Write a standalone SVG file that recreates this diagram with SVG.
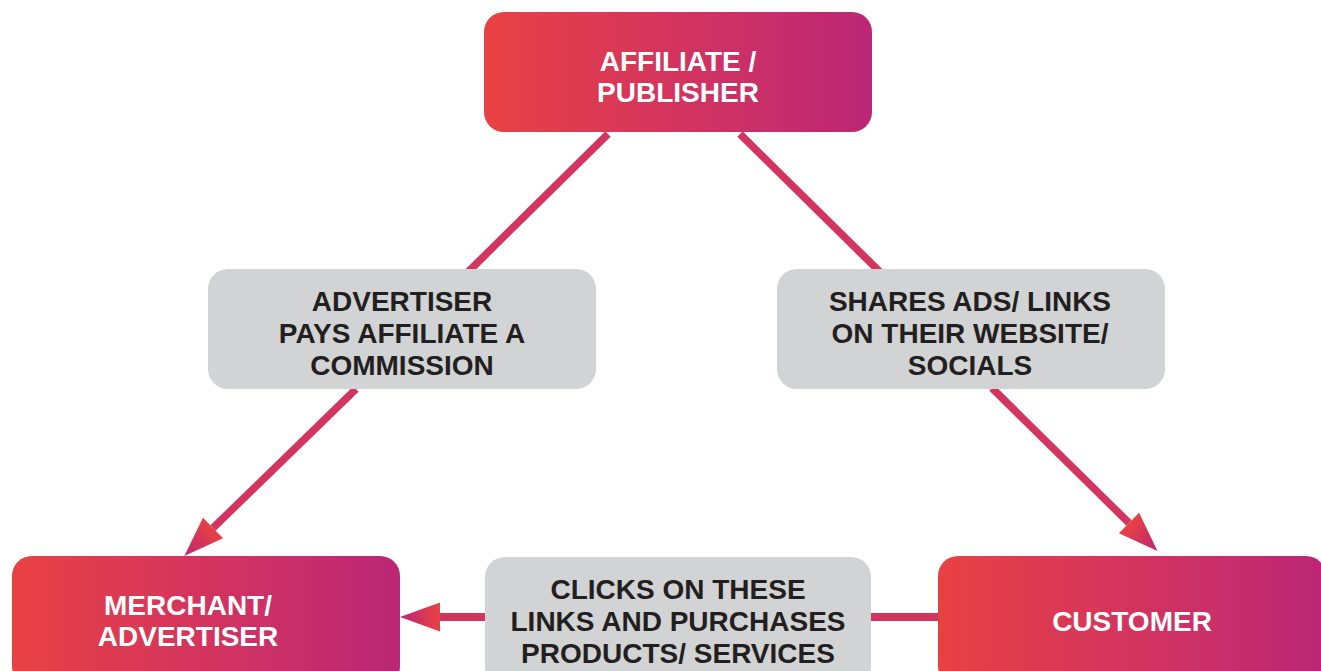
<svg xmlns="http://www.w3.org/2000/svg" width="1321" height="671" viewBox="0 0 1321 671">
<defs>
<linearGradient id="g" x1="0" y1="0" x2="1" y2="0">
<stop offset="0" stop-color="#e84143"/>
<stop offset="0.5" stop-color="#d3345f"/>
<stop offset="1" stop-color="#bb2776"/>
</linearGradient>
<linearGradient id="ga" x1="0" y1="0" x2="1" y2="0">
<stop offset="0" stop-color="#e84143"/>
<stop offset="1" stop-color="#bb2776"/>
</linearGradient>
<marker id="arr" markerUnits="userSpaceOnUse" markerWidth="40" markerHeight="30" viewBox="0 0 36 26" refX="0" refY="13" orient="auto" overflow="visible">
<path d="M0,0 L36,13 L0,26 z" fill="url(#ga)"/>
</marker>
<style>
.main{fill:url(#g)}
.grey{fill:#d1d3d4}
.wt{font-family:"Liberation Sans",Arial,sans-serif;font-weight:bold;font-size:28px;fill:#ffffff;text-anchor:middle}
.dt{font-family:"Liberation Sans",Arial,sans-serif;font-weight:bold;font-size:28px;fill:#231f20;text-anchor:middle}
.ln{stroke:#d33460;stroke-width:7.5;fill:none}
.lh{stroke:#d33460;stroke-width:8;fill:none}
</style>
</defs>
<g id="connectors">
<line class="ln" x1="608" y1="134" x2="468" y2="272"/>
<line class="ln" x1="356" y1="389" x2="213" y2="528" marker-end="url(#arr)"/>
<line class="ln" x1="740" y1="134" x2="880" y2="272"/>
<line class="ln" x1="992" y1="388" x2="1129" y2="523" marker-end="url(#arr)"/>
<line class="lh" x1="940" y1="617" x2="440" y2="617" marker-end="url(#arr)"/>
</g>
<g id="affiliate">
<rect class="main" x="484" y="12" width="388" height="120" rx="20"/>
<text class="wt" x="678" y="71">AFFILIATE /</text>
<text class="wt" x="678" y="102">PUBLISHER</text>
</g>
<g id="commission">
<rect class="grey" x="208" y="269" width="388" height="120" rx="20"/>
<text class="dt" x="402" y="311">ADVERTISER</text>
<text class="dt" x="402" y="343">PAYS AFFILIATE A</text>
<text class="dt" x="402" y="375">COMMISSION</text>
</g>
<g id="shares">
<rect class="grey" x="777" y="269" width="388" height="120" rx="20"/>
<text class="dt" x="970" y="311">SHARES ADS/ LINKS</text>
<text class="dt" x="970" y="343">ON THEIR WEBSITE/</text>
<text class="dt" x="970" y="375">SOCIALS</text>
</g>
<g id="merchant">
<rect class="main" x="12" y="556" width="388" height="130" rx="20"/>
<text class="wt" x="188" y="615">MERCHANT/</text>
<text class="wt" x="188" y="646">ADVERTISER</text>
</g>
<g id="clicks">
<rect class="grey" x="485" y="557" width="386" height="130" rx="20"/>
<text class="dt" x="678" y="599">CLICKS ON THESE</text>
<text class="dt" x="678" y="631">LINKS AND PURCHASES</text>
<text class="dt" x="678" y="663">PRODUCTS/ SERVICES</text>
</g>
<g id="customer">
<rect class="main" x="938" y="556" width="388" height="130" rx="20"/>
<text class="wt" x="1132" y="631">CUSTOMER</text>
</g>
</svg>
